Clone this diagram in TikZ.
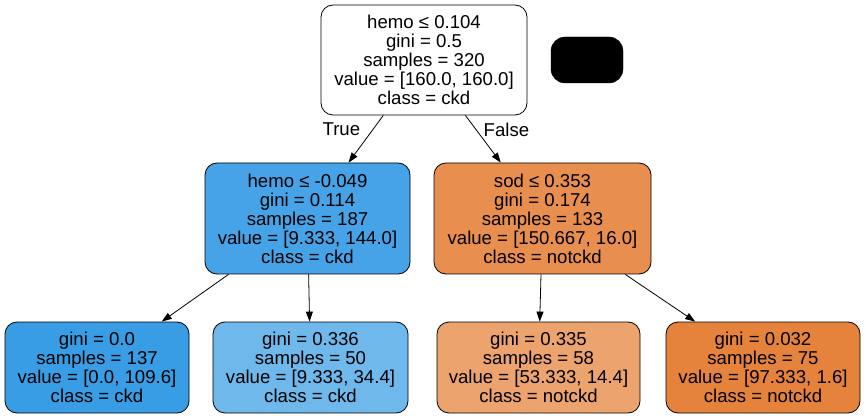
\documentclass[tikz,border=0pt]{standalone}
\usepackage{fontspec}
\setmainfont{Liberation Sans}
\usetikzlibrary{arrows.meta}
\tikzset{>={Triangle[width=7pt,length=10pt]}}
\tikzset{
    treenode/.style={draw, line width=0.8pt, rounded corners=12pt, align=center, inner sep=0pt,
        font=\fontsize{18.6}{19}\selectfont},
    edgelabel/.style={font=\fontsize{18.6}{19}\selectfont}
}
\definecolor{ckdfull}{RGB}{57,157,229}
\definecolor{ckdmid}{RGB}{70,163,231}
\definecolor{ckdlight}{RGB}{111,184,236}
\definecolor{notfull}{RGB}{229,131,60}
\definecolor{notmid}{RGB}{232,142,78}
\definecolor{notlight}{RGB}{236,163,110}

\begin{document}
\begin{tikzpicture}[x=1pt, y=-1pt]
    \useasboundingbox (0,0) rectangle (866,419);
    \node (root) at (424,60) [treenode, fill=white, minimum width=206pt, minimum height=110pt]
        {hemo ≤ 0.104\\gini = 0.5\\samples = 320\\value = [160.0, 160.0]\\class = ckd};
    \node (key) at (587,60) [draw, fill=black, rounded corners=14pt, minimum width=72pt, minimum height=46pt] {};
    \node (hemo) at (307.5,218.5) [treenode, fill=ckdmid, minimum width=205pt, minimum height=111pt]
        {hemo ≤ -0.049\\gini = 0.114\\samples = 187\\value = [9.333, 144.0]\\class = ckd};
    \node (sod) at (542.5,218.5) [treenode, fill=notmid, minimum width=217pt, minimum height=111pt]
        {sod ≤ 0.353\\gini = 0.174\\samples = 133\\value = [150.667, 16.0]\\class = notckd};

    \node (leafa) at (97,367.5) [treenode, fill=ckdfull, minimum width=184pt, minimum height=91pt]
        {gini = 0.0\\samples = 137\\value = [0.0, 109.6]\\class = ckd};
    \node (leafb) at (310.5,367.5) [treenode, fill=ckdlight, minimum width=195pt, minimum height=91pt]
        {gini = 0.336\\samples = 50\\value = [9.333, 34.4]\\class = ckd};
    \node (leafc) at (538.5,367.5) [treenode, fill=notlight, minimum width=203pt, minimum height=91pt]
        {gini = 0.335\\samples = 58\\value = [53.333, 14.4]\\class = notckd};
    \node (leafd) at (763,367.5) [treenode, fill=notfull, minimum width=194pt, minimum height=91pt]
        {gini = 0.032\\samples = 75\\value = [97.333, 1.6]\\class = notckd};

    \path [draw, ->, line width=0.8pt] (root) -- node [edgelabel, pos=0.3, left=9pt] {True} (hemo);
    \path [draw, ->, line width=0.8pt] (root) -- node [edgelabel, pos=0.3, right=4pt] {False} (sod);
    \path [draw, ->, line width=0.8pt] (hemo) -- (leafa);
    \path [draw, ->, line width=0.8pt] (hemo) -- (leafb);
    \path [draw, ->, line width=0.8pt] (sod) -- (leafc);
    \path [draw, ->, line width=0.8pt] (sod) -- (leafd);
\end{tikzpicture}
\end{document}
